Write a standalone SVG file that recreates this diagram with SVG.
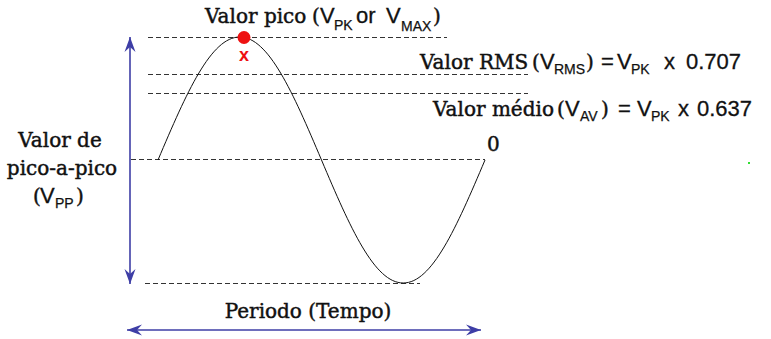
<svg xmlns="http://www.w3.org/2000/svg" width="771" height="339" viewBox="0 0 771 339">
<style>
.serif{font-family:"DejaVu Serif","Liberation Serif",serif;font-size:20px;fill:#111;stroke:#111;stroke-width:0.45px}
.sans{font-family:"Liberation Sans",Arial,sans-serif;font-size:22px;fill:#111;stroke:#111;stroke-width:0.3px}
.sub{font-family:"Liberation Sans",Arial,sans-serif;font-size:14px;fill:#111;stroke:#111;stroke-width:0.25px}
.dash{stroke:#333;stroke-width:1;stroke-dasharray:5,3;fill:none}
.arrow{stroke:#3e3ea6;stroke-width:1.6;fill:none;marker-start:url(#ah);marker-end:url(#ah)}
</style>
<defs>
<marker id="ah" viewBox="-16 -7 16 14" refX="0" refY="0" markerWidth="16" markerHeight="14" markerUnits="userSpaceOnUse" orient="auto-start-reverse">
<path d="M0,0 L-15,-5.5 L-10,0 L-15,5.5 Z" fill="#3e3ea6"/>
</marker>
</defs>
<rect width="771" height="339" fill="#fff"/>
<g id="guides">
<line class="dash" x1="148" y1="37.5" x2="447" y2="37.5"/>
<line class="dash" x1="148" y1="74.5" x2="528" y2="74.5"/>
<line class="dash" x1="148" y1="93.5" x2="528" y2="93.5"/>
<line class="dash" x1="131" y1="159.5" x2="485" y2="159.5"/>
<line class="dash" x1="145" y1="283.5" x2="420" y2="283.5"/>
</g>
<g id="wave">
<path d="M158,160 C186.74,92.07 211.01,37 239.75,37 C268.49,37 292.76,92.07 321.5,160 C350.24,227.93 374.51,283 403.25,283 C431.99,283 456.26,227.93 485,160" fill="none" stroke="#111" stroke-width="1"/>
</g>
<g id="connectors">
<line class="arrow" x1="130" y1="37" x2="130" y2="284"/>
<line class="arrow" x1="127" y1="330" x2="481" y2="330"/>
</g>
<g id="peak">
<circle cx="244" cy="37.5" r="6.5" fill="#ee1111"/>
<text x="244" y="61" text-anchor="middle" font-family="Liberation Sans, sans-serif" font-weight="bold" font-size="18" fill="#ee1111">x</text>
</g>
<g id="label-peak">
<text class="serif" x="205" y="23">Valor pico</text>
<text class="serif" x="312" y="23">(</text>
<text class="sans" x="320" y="23">V</text>
<text class="sub" x="334" y="30">PK</text>
<text class="sans" x="356" y="23">or</text>
<text class="sans" x="386" y="23">V</text>
<text class="sub" x="401" y="31">MAX</text>
<text class="serif" x="433" y="23">)</text>
</g>
<g id="label-rms">
<text class="serif" x="420" y="69">Valor RMS</text>
<text class="serif" x="532" y="69">(</text>
<text class="sans" x="540" y="69">V</text>
<text class="sub" x="554" y="74">RMS</text>
<text class="serif" x="586" y="69">)</text>
<text class="sans" x="601" y="69">=</text>
<text class="sans" x="617" y="69">V</text>
<text class="sub" x="631" y="74">PK</text>
<text class="sans" x="664" y="69">x</text>
<text class="sans" x="686" y="69">0.707</text>
</g>
<g id="label-av">
<text class="serif" x="433" y="116">Valor médio</text>
<text class="serif" x="557" y="116">(</text>
<text class="sans" x="565" y="116">V</text>
<text class="sub" x="580" y="121">AV</text>
<text class="serif" x="601" y="116">)</text>
<text class="sans" x="618" y="116">=</text>
<text class="sans" x="637" y="116">V</text>
<text class="sub" x="651" y="121">PK</text>
<text class="sans" x="678" y="116">x</text>
<text class="sans" x="697" y="116">0.637</text>
</g>
<g id="label-zero">
<text class="serif" x="487" y="151">0</text>
</g>
<g id="label-pp">
<text class="serif" x="60" y="147" text-anchor="middle">Valor de</text>
<text class="serif" x="62" y="175" text-anchor="middle">pico-a-pico</text>
<text class="serif" x="33" y="203">(</text>
<text class="sans" x="40" y="203">V</text>
<text class="sub" x="55" y="208" font-size="15px">PP</text>
<text class="serif" x="76" y="203">)</text>
</g>
<g id="label-period">
<text class="serif" x="308" y="318" text-anchor="middle" font-size="19px">Periodo (Tempo)</text>
</g>
<rect x="748" y="162" width="2" height="2" fill="#33dd33"/>
</svg>
